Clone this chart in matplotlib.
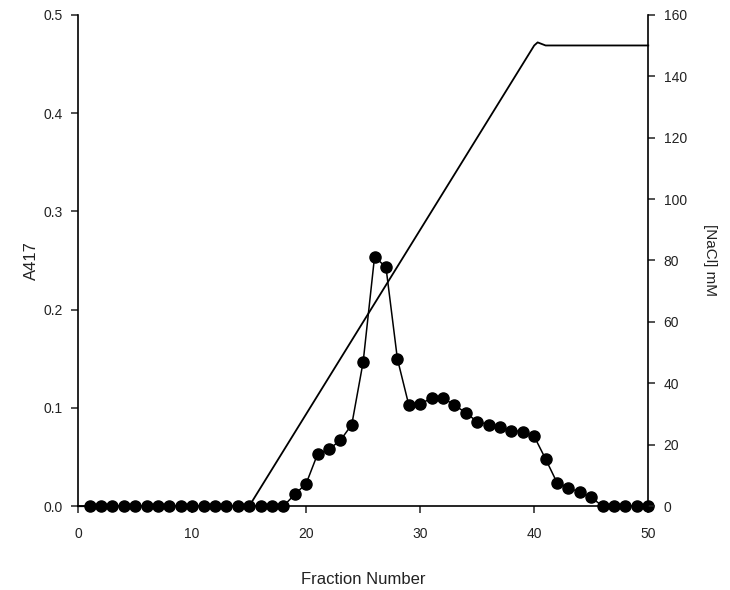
import numpy as np
import matplotlib
matplotlib.use('Agg')
import matplotlib.pyplot as plt

plt.rcParams['font.family'] = ['Liberation Sans', 'DejaVu Sans']

# A417 per fraction
fractions = np.arange(1, 51)
a417 = [0, 0, 0, 0, 0, 0, 0, 0, 0, 0,
        0, 0, 0, 0, 0, 0, 0, 0, 0.012, 0.023,
        0.053, 0.058, 0.067, 0.083, 0.147, 0.254, 0.243, 0.150, 0.103, 0.104,
        0.110, 0.110, 0.103, 0.095, 0.086, 0.083, 0.081, 0.077, 0.076, 0.071,
        0.048, 0.024, 0.019, 0.014, 0.009, 0, 0, 0, 0, 0]

# NaCl gradient
nacl_x = [0, 15, 40, 40.3, 41, 50]
nacl_y = [0, 0, 150, 151, 150, 150]

fig = plt.figure(figsize=(7.3, 5.9), dpi=100)
ax = fig.add_axes([0.107, 0.142, 0.781, 0.833])
ax2 = ax.twinx()

ax.plot(fractions, a417, 'k-', lw=1.1, marker='o', ms=8, clip_on=False, zorder=3)
ax2.plot(nacl_x, nacl_y, 'k-', lw=1.3, clip_on=False)

ax.set_xlim(0, 50)
ax.set_ylim(0, 0.5)
ax2.set_ylim(0, 160)
ax.set_xticks(range(0, 51, 10))
ax.set_yticks(np.arange(0, 0.51, 0.1))
ax.set_yticklabels(['0.0', '0.1', '0.2', '0.3', '0.4', '0.5'])
ax2.set_yticks(range(0, 161, 20))

for a in (ax, ax2):
    a.spines['top'].set_visible(False)
    for s in a.spines.values():
        s.set_linewidth(1.2)
    a.tick_params(direction='out', length=5, width=1.1, labelsize=10, colors='#222222')
ax.spines['right'].set_visible(False)
ax2.spines['left'].set_visible(False)
ax2.spines['bottom'].set_visible(False)
ax.tick_params(axis='x', pad=10)
ax.tick_params(axis='y', pad=6)
ax2.tick_params(axis='y', pad=6)

ax.set_xlabel('Fraction Number', fontsize=12, labelpad=22, color='#222222')
ax.set_ylabel('A417', fontsize=12, labelpad=3, color='#222222')
ax2.set_ylabel('[NaCl] mM', fontsize=11, rotation=270, labelpad=22, color='#222222')

fig.savefig('out.png', dpi=100)
